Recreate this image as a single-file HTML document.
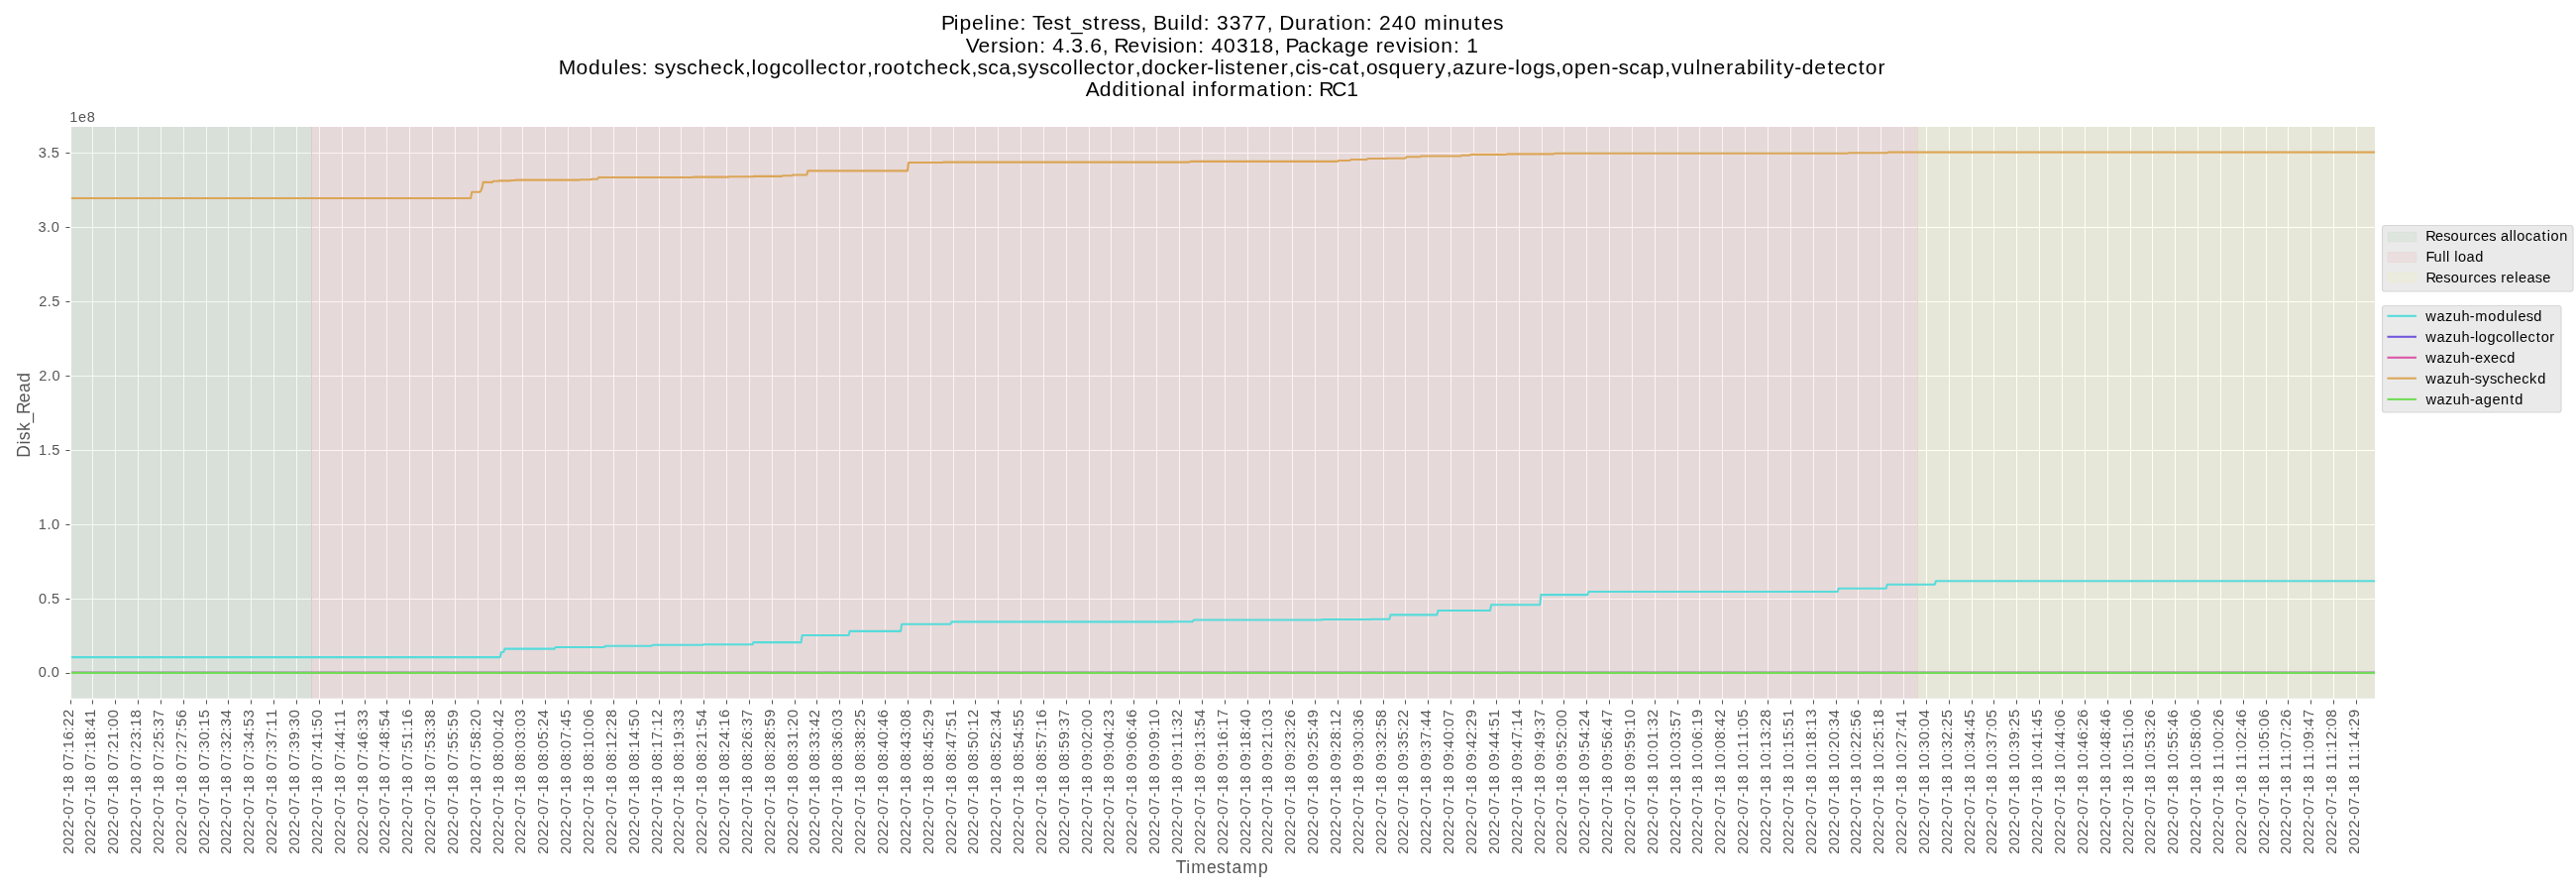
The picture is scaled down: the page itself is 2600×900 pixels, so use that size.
<!DOCTYPE html>
<html><head><meta charset="utf-8"><title>Disk_Read</title><style>html,body{margin:0;padding:0;background:#fff;width:2600px;height:900px;overflow:hidden}svg{display:block}.tx{will-change:transform}text{font-family:"Liberation Sans",sans-serif;font-variant-ligatures:none;font-kerning:none}</style></head><body>
<svg class="tx" width="2600" height="900" viewBox="0 0 2600 900">
<defs><clipPath id="ax"><rect x="72" y="128" width="2325" height="576.7"/></clipPath></defs>
<rect x="0" y="0" width="2600" height="900" fill="#fff"/>
<rect x="72" y="128" width="2325" height="576.7" fill="#e5e5e5"/>
<g fill="#fff"><rect x="93" y="128" width="1" height="576.7"/><rect x="116" y="128" width="1" height="576.7"/><rect x="139" y="128" width="1" height="576.7"/><rect x="162" y="128" width="1" height="576.7"/><rect x="185" y="128" width="1" height="576.7"/><rect x="208" y="128" width="1" height="576.7"/><rect x="230" y="128" width="1" height="576.7"/><rect x="253" y="128" width="1" height="576.7"/><rect x="276" y="128" width="1" height="576.7"/><rect x="299" y="128" width="1" height="576.7"/><rect x="322" y="128" width="1" height="576.7"/><rect x="345" y="128" width="1" height="576.7"/><rect x="368" y="128" width="1" height="576.7"/><rect x="390" y="128" width="1" height="576.7"/><rect x="413" y="128" width="1" height="576.7"/><rect x="436" y="128" width="1" height="576.7"/><rect x="459" y="128" width="1" height="576.7"/><rect x="482" y="128" width="1" height="576.7"/><rect x="505" y="128" width="1" height="576.7"/><rect x="527" y="128" width="1" height="576.7"/><rect x="550" y="128" width="1" height="576.7"/><rect x="573" y="128" width="1" height="576.7"/><rect x="596" y="128" width="1" height="576.7"/><rect x="619" y="128" width="1" height="576.7"/><rect x="642" y="128" width="1" height="576.7"/><rect x="665" y="128" width="1" height="576.7"/><rect x="687" y="128" width="1" height="576.7"/><rect x="710" y="128" width="1" height="576.7"/><rect x="733" y="128" width="1" height="576.7"/><rect x="756" y="128" width="1" height="576.7"/><rect x="779" y="128" width="1" height="576.7"/><rect x="802" y="128" width="1" height="576.7"/><rect x="824" y="128" width="1" height="576.7"/><rect x="847" y="128" width="1" height="576.7"/><rect x="870" y="128" width="1" height="576.7"/><rect x="893" y="128" width="1" height="576.7"/><rect x="916" y="128" width="1" height="576.7"/><rect x="939" y="128" width="1" height="576.7"/><rect x="962" y="128" width="1" height="576.7"/><rect x="984" y="128" width="1" height="576.7"/><rect x="1007" y="128" width="1" height="576.7"/><rect x="1030" y="128" width="1" height="576.7"/><rect x="1053" y="128" width="1" height="576.7"/><rect x="1076" y="128" width="1" height="576.7"/><rect x="1099" y="128" width="1" height="576.7"/><rect x="1121" y="128" width="1" height="576.7"/><rect x="1144" y="128" width="1" height="576.7"/><rect x="1167" y="128" width="1" height="576.7"/><rect x="1190" y="128" width="1" height="576.7"/><rect x="1213" y="128" width="1" height="576.7"/><rect x="1236" y="128" width="1" height="576.7"/><rect x="1259" y="128" width="1" height="576.7"/><rect x="1281" y="128" width="1" height="576.7"/><rect x="1304" y="128" width="1" height="576.7"/><rect x="1327" y="128" width="1" height="576.7"/><rect x="1350" y="128" width="1" height="576.7"/><rect x="1373" y="128" width="1" height="576.7"/><rect x="1396" y="128" width="1" height="576.7"/><rect x="1418" y="128" width="1" height="576.7"/><rect x="1441" y="128" width="1" height="576.7"/><rect x="1464" y="128" width="1" height="576.7"/><rect x="1487" y="128" width="1" height="576.7"/><rect x="1510" y="128" width="1" height="576.7"/><rect x="1533" y="128" width="1" height="576.7"/><rect x="1556" y="128" width="1" height="576.7"/><rect x="1578" y="128" width="1" height="576.7"/><rect x="1601" y="128" width="1" height="576.7"/><rect x="1624" y="128" width="1" height="576.7"/><rect x="1647" y="128" width="1" height="576.7"/><rect x="1670" y="128" width="1" height="576.7"/><rect x="1693" y="128" width="1" height="576.7"/><rect x="1715" y="128" width="1" height="576.7"/><rect x="1738" y="128" width="1" height="576.7"/><rect x="1761" y="128" width="1" height="576.7"/><rect x="1784" y="128" width="1" height="576.7"/><rect x="1807" y="128" width="1" height="576.7"/><rect x="1830" y="128" width="1" height="576.7"/><rect x="1853" y="128" width="1" height="576.7"/><rect x="1875" y="128" width="1" height="576.7"/><rect x="1898" y="128" width="1" height="576.7"/><rect x="1921" y="128" width="1" height="576.7"/><rect x="1944" y="128" width="1" height="576.7"/><rect x="1967" y="128" width="1" height="576.7"/><rect x="1990" y="128" width="1" height="576.7"/><rect x="2012" y="128" width="1" height="576.7"/><rect x="2035" y="128" width="1" height="576.7"/><rect x="2058" y="128" width="1" height="576.7"/><rect x="2081" y="128" width="1" height="576.7"/><rect x="2104" y="128" width="1" height="576.7"/><rect x="2127" y="128" width="1" height="576.7"/><rect x="2150" y="128" width="1" height="576.7"/><rect x="2172" y="128" width="1" height="576.7"/><rect x="2195" y="128" width="1" height="576.7"/><rect x="2218" y="128" width="1" height="576.7"/><rect x="2241" y="128" width="1" height="576.7"/><rect x="2264" y="128" width="1" height="576.7"/><rect x="2287" y="128" width="1" height="576.7"/><rect x="2309" y="128" width="1" height="576.7"/><rect x="2332" y="128" width="1" height="576.7"/><rect x="2355" y="128" width="1" height="576.7"/><rect x="2378" y="128" width="1" height="576.7"/><rect x="72" y="154" width="2325" height="1"/><rect x="72" y="229" width="2325" height="1"/><rect x="72" y="304" width="2325" height="1"/><rect x="72" y="379" width="2325" height="1"/><rect x="72" y="454" width="2325" height="1"/><rect x="72" y="529" width="2325" height="1"/><rect x="72" y="604" width="2325" height="1"/><rect x="72" y="679" width="2325" height="1"/></g>
<g clip-path="url(#ax)">
<rect x="72" y="128" width="242" height="576.7" fill="#008000" fill-opacity="0.05"/>
<rect x="315" y="128" width="1620" height="576.7" fill="#ff0000" fill-opacity="0.05"/>
<rect x="1936" y="128" width="461" height="576.7" fill="#ffff00" fill-opacity="0.05"/>
<rect x="314" y="128" width="1" height="576.7" fill="rgb(216,207,200)"/>
<rect x="1935" y="128" width="1" height="576.7" fill="rgb(229,216,200)"/>
</g>
<g clip-path="url(#ax)" fill="none" stroke-width="2.08" stroke-linejoin="round" stroke-linecap="square">
<polyline points="72.00,663.10 504.80,663.10 505.94,658.00 508.22,658.00 509.36,654.60 559.61,654.60 560.75,653.00 609.86,653.00 611.00,651.70 657.82,651.70 658.96,650.80 709.21,650.80 710.35,650.20 759.45,650.20 760.59,648.10 808.55,648.10 809.70,641.00 856.52,641.00 857.66,636.90 909.05,636.90 910.19,629.70 959.29,629.70 960.43,627.40 1184.25,627.40 1185.40,627.20 1203.67,627.20 1204.81,625.50 1333.85,625.50 1334.99,625.00 1382.95,625.00 1384.09,624.70 1402.37,624.70 1403.51,620.40 1450.33,620.40 1451.47,616.00 1504.00,616.00 1505.14,610.20 1554.24,610.20 1555.39,600.10 1602.21,600.10 1603.35,597.00 1854.58,597.00 1855.72,593.80 1903.68,593.80 1904.82,589.70 1952.78,589.70 1953.93,586.30 2397.00,586.30" stroke="#57dbdb"/>
<line x1="72" y1="679" x2="2397" y2="679" stroke="#7157db"/>
<line x1="72" y1="679" x2="2397" y2="679" stroke="#db57a6"/>
<rect x="72" y="677" width="2325" height="1" fill="#8a7090" fill-opacity="0.45" stroke="none"/>
<polyline points="72.00,200.00 475.11,200.00 476.25,193.70 484.24,193.70 485.38,192.60 486.53,189.70 487.67,183.90 496.80,183.90 497.95,182.80 502.51,182.80 503.66,182.40 515.07,182.40 516.22,182.00 519.64,182.00 520.78,181.60 584.73,181.60 585.88,181.20 596.15,181.20 597.29,180.80 603.00,180.80 604.15,179.00 698.93,179.00 700.07,178.60 735.47,178.60 736.61,178.30 759.45,178.30 760.59,177.90 789.14,177.90 790.28,177.20 799.42,177.20 800.56,176.50 814.26,176.50 815.41,172.40 915.90,172.40 917.04,164.00 951.30,164.00 952.44,163.60 1200.24,163.60 1201.38,162.90 1349.84,162.90 1350.98,162.00 1362.40,162.00 1363.54,161.00 1379.53,161.00 1380.67,160.00 1398.94,160.00 1400.08,159.70 1418.35,159.70 1419.50,158.30 1433.20,158.30 1434.34,157.50 1474.31,157.50 1475.45,156.70 1483.44,156.70 1484.59,155.90 1519.99,155.90 1521.13,155.40 1567.95,155.40 1569.09,154.80 1864.85,154.80 1866.00,154.20 1904.82,154.20 1905.96,153.60 2397.00,153.60" stroke="#dba657"/>
<line x1="72" y1="679" x2="2397" y2="679" stroke="#71db57"/>
</g>
<g fill="#555"><rect x="71" y="706.4" width="1" height="4.1"/><rect x="93" y="706.4" width="1" height="4.1"/><rect x="116" y="706.4" width="1" height="4.1"/><rect x="139" y="706.4" width="1" height="4.1"/><rect x="162" y="706.4" width="1" height="4.1"/><rect x="185" y="706.4" width="1" height="4.1"/><rect x="208" y="706.4" width="1" height="4.1"/><rect x="230" y="706.4" width="1" height="4.1"/><rect x="253" y="706.4" width="1" height="4.1"/><rect x="276" y="706.4" width="1" height="4.1"/><rect x="299" y="706.4" width="1" height="4.1"/><rect x="322" y="706.4" width="1" height="4.1"/><rect x="345" y="706.4" width="1" height="4.1"/><rect x="368" y="706.4" width="1" height="4.1"/><rect x="390" y="706.4" width="1" height="4.1"/><rect x="413" y="706.4" width="1" height="4.1"/><rect x="436" y="706.4" width="1" height="4.1"/><rect x="459" y="706.4" width="1" height="4.1"/><rect x="482" y="706.4" width="1" height="4.1"/><rect x="505" y="706.4" width="1" height="4.1"/><rect x="527" y="706.4" width="1" height="4.1"/><rect x="550" y="706.4" width="1" height="4.1"/><rect x="573" y="706.4" width="1" height="4.1"/><rect x="596" y="706.4" width="1" height="4.1"/><rect x="619" y="706.4" width="1" height="4.1"/><rect x="642" y="706.4" width="1" height="4.1"/><rect x="665" y="706.4" width="1" height="4.1"/><rect x="687" y="706.4" width="1" height="4.1"/><rect x="710" y="706.4" width="1" height="4.1"/><rect x="733" y="706.4" width="1" height="4.1"/><rect x="756" y="706.4" width="1" height="4.1"/><rect x="779" y="706.4" width="1" height="4.1"/><rect x="802" y="706.4" width="1" height="4.1"/><rect x="824" y="706.4" width="1" height="4.1"/><rect x="847" y="706.4" width="1" height="4.1"/><rect x="870" y="706.4" width="1" height="4.1"/><rect x="893" y="706.4" width="1" height="4.1"/><rect x="916" y="706.4" width="1" height="4.1"/><rect x="939" y="706.4" width="1" height="4.1"/><rect x="962" y="706.4" width="1" height="4.1"/><rect x="984" y="706.4" width="1" height="4.1"/><rect x="1007" y="706.4" width="1" height="4.1"/><rect x="1030" y="706.4" width="1" height="4.1"/><rect x="1053" y="706.4" width="1" height="4.1"/><rect x="1076" y="706.4" width="1" height="4.1"/><rect x="1099" y="706.4" width="1" height="4.1"/><rect x="1121" y="706.4" width="1" height="4.1"/><rect x="1144" y="706.4" width="1" height="4.1"/><rect x="1167" y="706.4" width="1" height="4.1"/><rect x="1190" y="706.4" width="1" height="4.1"/><rect x="1213" y="706.4" width="1" height="4.1"/><rect x="1236" y="706.4" width="1" height="4.1"/><rect x="1259" y="706.4" width="1" height="4.1"/><rect x="1281" y="706.4" width="1" height="4.1"/><rect x="1304" y="706.4" width="1" height="4.1"/><rect x="1327" y="706.4" width="1" height="4.1"/><rect x="1350" y="706.4" width="1" height="4.1"/><rect x="1373" y="706.4" width="1" height="4.1"/><rect x="1396" y="706.4" width="1" height="4.1"/><rect x="1418" y="706.4" width="1" height="4.1"/><rect x="1441" y="706.4" width="1" height="4.1"/><rect x="1464" y="706.4" width="1" height="4.1"/><rect x="1487" y="706.4" width="1" height="4.1"/><rect x="1510" y="706.4" width="1" height="4.1"/><rect x="1533" y="706.4" width="1" height="4.1"/><rect x="1556" y="706.4" width="1" height="4.1"/><rect x="1578" y="706.4" width="1" height="4.1"/><rect x="1601" y="706.4" width="1" height="4.1"/><rect x="1624" y="706.4" width="1" height="4.1"/><rect x="1647" y="706.4" width="1" height="4.1"/><rect x="1670" y="706.4" width="1" height="4.1"/><rect x="1693" y="706.4" width="1" height="4.1"/><rect x="1715" y="706.4" width="1" height="4.1"/><rect x="1738" y="706.4" width="1" height="4.1"/><rect x="1761" y="706.4" width="1" height="4.1"/><rect x="1784" y="706.4" width="1" height="4.1"/><rect x="1807" y="706.4" width="1" height="4.1"/><rect x="1830" y="706.4" width="1" height="4.1"/><rect x="1853" y="706.4" width="1" height="4.1"/><rect x="1875" y="706.4" width="1" height="4.1"/><rect x="1898" y="706.4" width="1" height="4.1"/><rect x="1921" y="706.4" width="1" height="4.1"/><rect x="1944" y="706.4" width="1" height="4.1"/><rect x="1967" y="706.4" width="1" height="4.1"/><rect x="1990" y="706.4" width="1" height="4.1"/><rect x="2012" y="706.4" width="1" height="4.1"/><rect x="2035" y="706.4" width="1" height="4.1"/><rect x="2058" y="706.4" width="1" height="4.1"/><rect x="2081" y="706.4" width="1" height="4.1"/><rect x="2104" y="706.4" width="1" height="4.1"/><rect x="2127" y="706.4" width="1" height="4.1"/><rect x="2150" y="706.4" width="1" height="4.1"/><rect x="2172" y="706.4" width="1" height="4.1"/><rect x="2195" y="706.4" width="1" height="4.1"/><rect x="2218" y="706.4" width="1" height="4.1"/><rect x="2241" y="706.4" width="1" height="4.1"/><rect x="2264" y="706.4" width="1" height="4.1"/><rect x="2287" y="706.4" width="1" height="4.1"/><rect x="2309" y="706.4" width="1" height="4.1"/><rect x="2332" y="706.4" width="1" height="4.1"/><rect x="2355" y="706.4" width="1" height="4.1"/><rect x="2378" y="706.4" width="1" height="4.1"/><rect x="66.4" y="154" width="4.1" height="1"/><rect x="66.4" y="229" width="4.1" height="1"/><rect x="66.4" y="304" width="4.1" height="1"/><rect x="66.4" y="379" width="4.1" height="1"/><rect x="66.4" y="454" width="4.1" height="1"/><rect x="66.4" y="529" width="4.1" height="1"/><rect x="66.4" y="604" width="4.1" height="1"/><rect x="66.4" y="679" width="4.1" height="1"/></g>
<g>
<text transform="translate(950.91 30.46) scale(1.000 1)" font-size="21.00" fill="#000" x="-0.97 11.95 17.51 30.06 42.57 48.07 53.62 66.19 78.70 85.26 91.07 100.69 112.71 124.13 130.16 141.08 152.50 159.99 167.56 179.58 189.96 200.64 207.01 212.98 227.37 240.07 245.57 251.13 263.83 270.39 277.02 289.77 302.52 315.27 327.76 334.14 340.37 356.12 368.99 377.04 390.13 397.45 402.78 415.25 427.95 434.51 441.15 453.90 466.52 479.14 486.24 505.32 510.87 523.62 536.88 544.06 556.08">Pipeline: Test_stress, Build: 3377, Duration: 240 minutes</text>
<text transform="translate(974.98 53.01) scale(1.000 1)" font-size="21.00" fill="#000" x="-0.16 12.44 25.11 32.83 43.70 49.03 61.50 74.20 80.76 87.40 99.76 106.27 118.76 125.27 137.76 144.14 149.62 163.56 176.29 187.95 192.96 203.82 209.15 221.62 234.33 240.89 247.52 260.15 273.02 285.77 298.52 311.01 317.39 322.53 334.91 347.25 358.54 369.54 382.13 394.69 407.01 413.74 421.31 434.04 445.70 450.71 461.57 466.90 479.37 492.08 498.64 505.27">Version: 4.3.6, Revision: 40318, Package revision: 1</text>
<text transform="translate(563.90 75.11) scale(1.000 1)" font-size="21.00" fill="#000" x="-0.12 17.65 30.13 42.87 55.57 60.94 72.96 83.83 90.39 96.46 107.54 118.71 129.37 140.62 153.19 165.50 176.79 188.14 194.70 200.03 212.51 225.00 236.03 248.45 253.95 259.31 271.62 283.38 290.53 303.11 311.14 317.86 325.40 337.65 350.63 357.75 369.00 381.56 393.87 405.17 416.51 422.58 433.25 444.29 456.64 462.71 473.79 484.96 495.62 506.65 519.07 524.57 529.94 542.25 554.00 561.15 573.74 581.76 588.38 600.90 613.12 624.42 635.06 647.74 654.36 661.95 667.45 672.46 683.88 691.06 703.62 716.19 728.86 736.89 743.25 754.45 759.46 769.99 777.37 788.41 801.50 808.64 815.03 826.96 837.88 850.62 863.19 875.86 884.29 895.76 902.16 914.25 925.25 938.11 945.69 957.86 965.45 970.78 983.26 995.46 1006.14 1012.53 1025.01 1037.56 1050.12 1062.49 1069.58 1080.25 1091.29 1103.88 1116.39 1123.17 1134.87 1147.57 1153.12 1165.69 1178.36 1186.41 1199.01 1211.70 1217.20 1222.70 1228.75 1236.29 1247.24 1254.88 1267.44 1280.50 1287.69 1300.00 1311.75 1318.90 1331.49">Modules: syscheck,logcollector,rootcheck,sca,syscollector,docker-listener,cis-cat,osquery,azure-logs,open-scap,vulnerability-detector</text>
<text transform="translate(1095.91 97.25) scale(1.000 1)" font-size="21.00" fill="#000" x="-0.16 13.76 26.51 39.20 45.25 52.57 57.90 70.37 82.91 95.45 100.76 107.32 112.87 125.73 132.53 145.11 153.49 172.41 185.50 192.82 198.15 210.62 223.33 229.89 235.37 248.27 263.40">Additional information: RC1</text>
<text transform="translate(38.35 682.97) scale(1.000 1)" font-size="14.58" fill="#555" x="0.36 8.93 13.49">0.0</text>
<text transform="translate(38.54 609.11) scale(1.000 1)" font-size="14.58" fill="#555" x="0.36 8.93 13.49">0.5</text>
<text transform="translate(38.35 533.78) scale(1.000 1)" font-size="14.58" fill="#555" x="0.36 9.06 13.61">1.0</text>
<text transform="translate(38.61 458.97) scale(1.000 1)" font-size="14.58" fill="#555" x="0.36 9.06 13.61">1.5</text>
<text transform="translate(38.91 383.84) scale(1.000 1)" font-size="14.58" fill="#555" x="0.36 8.93 13.49">2.0</text>
<text transform="translate(38.79 309.00) scale(1.000 1)" font-size="14.58" fill="#555" x="0.36 8.93 13.49">2.5</text>
<text transform="translate(38.19 234.01) scale(1.000 1)" font-size="14.58" fill="#555" x="0.36 8.93 13.49">3.0</text>
<text transform="translate(38.34 159.17) scale(1.000 1)" font-size="14.58" fill="#555" x="0.36 8.93 13.49">3.5</text>
<text transform="translate(69.90 122.94) scale(1.000 1)" font-size="14.58" fill="#555" x="0.36 9.09 17.74">1e8</text>
<text transform="translate(1187.12 880.94) scale(1.000 1)" font-size="17.50" fill="#555" x="-0.25 10.12 15.20 30.89 40.84 50.46 56.37 67.08 82.92">Timestamp</text>
<text transform="translate(29.85 461.76) rotate(-90) scale(1.000 1)" font-size="17.50" fill="#555" x="0.10 13.25 17.47 26.70 35.30 43.85 55.51 65.74 76.05">Disk_Read</text>
<text transform="translate(74.19 862.03) rotate(-90) scale(1.000 1)" font-size="14.58" fill="#555" x="0.36 9.11 17.86 26.61 35.08 40.24 48.99 57.45 62.61 71.49 80.18 84.74 93.49 102.19 106.86 115.74 124.56 129.24 137.99">2022-07-18 07:16:22</text>
<text transform="translate(96.20 862.06) rotate(-90) scale(1.000 1)" font-size="14.58" fill="#555" x="0.36 9.11 17.86 26.61 35.08 40.24 48.99 57.45 62.61 71.49 80.18 84.74 93.49 102.19 106.86 115.74 124.56 129.24 137.99">2022-07-18 07:18:41</text>
<text transform="translate(119.20 862.03) rotate(-90) scale(1.000 1)" font-size="14.58" fill="#555" x="0.36 9.11 17.86 26.61 35.08 40.24 48.99 57.45 62.61 71.49 80.18 84.74 93.49 102.19 106.86 115.61 124.44 129.11 137.86">2022-07-18 07:21:00</text>
<text transform="translate(142.20 862.01) rotate(-90) scale(1.000 1)" font-size="14.58" fill="#555" x="0.36 9.11 17.86 26.61 35.08 40.24 48.99 57.45 62.61 71.49 80.18 84.74 93.49 102.19 106.86 115.61 124.31 128.99 137.86">2022-07-18 07:23:18</text>
<text transform="translate(165.27 861.98) rotate(-90) scale(1.000 1)" font-size="14.58" fill="#555" x="0.36 9.11 17.86 26.61 35.08 40.24 48.99 57.45 62.61 71.49 80.18 84.74 93.49 102.19 106.86 115.61 124.31 128.99 137.74">2022-07-18 07:25:37</text>
<text transform="translate(188.27 862.01) rotate(-90) scale(1.000 1)" font-size="14.58" fill="#555" x="0.36 9.11 17.86 26.61 35.08 40.24 48.99 57.45 62.61 71.49 80.18 84.74 93.49 102.19 106.86 115.61 124.31 128.99 137.74">2022-07-18 07:27:56</text>
<text transform="translate(211.26 861.99) rotate(-90) scale(1.000 1)" font-size="14.58" fill="#555" x="0.36 9.11 17.86 26.61 35.08 40.24 48.99 57.45 62.61 71.49 80.18 84.74 93.49 102.19 106.86 115.61 124.31 128.99 137.86">2022-07-18 07:30:15</text>
<text transform="translate(233.25 861.99) rotate(-90) scale(1.000 1)" font-size="14.58" fill="#555" x="0.36 9.11 17.86 26.61 35.08 40.24 48.99 57.45 62.61 71.49 80.18 84.74 93.49 102.19 106.86 115.61 124.31 128.99 137.74">2022-07-18 07:32:34</text>
<text transform="translate(256.31 862.03) rotate(-90) scale(1.000 1)" font-size="14.58" fill="#555" x="0.36 9.11 17.86 26.61 35.08 40.24 48.99 57.45 62.61 71.49 80.18 84.74 93.49 102.19 106.86 115.61 124.31 128.99 137.74">2022-07-18 07:34:53</text>
<text transform="translate(279.19 861.98) rotate(-90) scale(1.000 1)" font-size="14.58" fill="#555" x="0.36 9.11 17.86 26.61 35.08 40.24 48.99 57.45 62.61 71.49 80.18 84.74 93.49 102.19 106.86 115.61 124.31 128.99 137.86">2022-07-18 07:37:11</text>
<text transform="translate(302.26 862.02) rotate(-90) scale(1.000 1)" font-size="14.58" fill="#555" x="0.36 9.11 17.86 26.61 35.08 40.24 48.99 57.45 62.61 71.49 80.18 84.74 93.49 102.19 106.86 115.61 124.44 129.11 137.86">2022-07-18 07:39:30</text>
<text transform="translate(325.28 862.03) rotate(-90) scale(1.000 1)" font-size="14.58" fill="#555" x="0.36 9.11 17.86 26.61 35.08 40.24 48.99 57.45 62.61 71.49 80.18 84.74 93.49 102.19 106.86 115.61 124.44 129.11 137.86">2022-07-18 07:41:50</text>
<text transform="translate(348.21 862.02) rotate(-90) scale(1.000 1)" font-size="14.58" fill="#555" x="0.36 9.11 17.86 26.61 35.08 40.24 48.99 57.45 62.61 71.49 80.18 84.74 93.49 102.19 106.86 115.61 124.31 128.99 137.86">2022-07-18 07:44:11</text>
<text transform="translate(371.27 862.04) rotate(-90) scale(1.000 1)" font-size="14.58" fill="#555" x="0.36 9.11 17.86 26.61 35.08 40.24 48.99 57.45 62.61 71.49 80.18 84.74 93.49 102.19 106.86 115.61 124.44 129.11 137.86">2022-07-18 07:46:33</text>
<text transform="translate(393.31 861.98) rotate(-90) scale(1.000 1)" font-size="14.58" fill="#555" x="0.36 9.11 17.86 26.61 35.08 40.24 48.99 57.45 62.61 71.49 80.18 84.74 93.49 102.19 106.86 115.61 124.44 129.11 137.86">2022-07-18 07:48:54</text>
<text transform="translate(416.22 862.02) rotate(-90) scale(1.000 1)" font-size="14.58" fill="#555" x="0.36 9.11 17.86 26.61 35.08 40.24 48.99 57.45 62.61 71.49 80.18 84.74 93.49 102.19 106.86 115.61 124.44 129.11 137.99">2022-07-18 07:51:16</text>
<text transform="translate(439.28 861.98) rotate(-90) scale(1.000 1)" font-size="14.58" fill="#555" x="0.36 9.11 17.86 26.61 35.08 40.24 48.99 57.45 62.61 71.49 80.18 84.74 93.49 102.19 106.86 115.61 124.31 128.99 137.74">2022-07-18 07:53:38</text>
<text transform="translate(462.36 862.03) rotate(-90) scale(1.000 1)" font-size="14.58" fill="#555" x="0.36 9.11 17.86 26.61 35.08 40.24 48.99 57.45 62.61 71.49 80.18 84.74 93.49 102.19 106.86 115.61 124.31 128.99 137.74">2022-07-18 07:55:59</text>
<text transform="translate(485.26 861.98) rotate(-90) scale(1.000 1)" font-size="14.58" fill="#555" x="0.36 9.11 17.86 26.61 35.08 40.24 48.99 57.45 62.61 71.49 80.18 84.74 93.49 102.19 106.86 115.61 124.44 129.11 137.86">2022-07-18 07:58:20</text>
<text transform="translate(508.25 861.99) rotate(-90) scale(1.000 1)" font-size="14.58" fill="#555" x="0.36 9.11 17.86 26.61 35.08 40.24 48.99 57.45 62.61 71.49 80.18 84.74 93.49 102.31 106.99 115.74 124.44 129.11 137.86">2022-07-18 08:00:42</text>
<text transform="translate(530.24 861.98) rotate(-90) scale(1.000 1)" font-size="14.58" fill="#555" x="0.36 9.11 17.86 26.61 35.08 40.24 48.99 57.45 62.61 71.49 80.18 84.74 93.49 102.31 106.99 115.74 124.44 129.11 137.86">2022-07-18 08:03:03</text>
<text transform="translate(553.29 862.04) rotate(-90) scale(1.000 1)" font-size="14.58" fill="#555" x="0.36 9.11 17.86 26.61 35.08 40.24 48.99 57.45 62.61 71.49 80.18 84.74 93.49 102.31 106.99 115.74 124.44 129.11 137.86">2022-07-18 08:05:24</text>
<text transform="translate(576.30 861.99) rotate(-90) scale(1.000 1)" font-size="14.58" fill="#555" x="0.36 9.11 17.86 26.61 35.08 40.24 48.99 57.45 62.61 71.49 80.18 84.74 93.49 102.31 106.99 115.74 124.44 129.11 137.86">2022-07-18 08:07:45</text>
<text transform="translate(599.21 862.00) rotate(-90) scale(1.000 1)" font-size="14.58" fill="#555" x="0.36 9.11 17.86 26.61 35.08 40.24 48.99 57.45 62.61 71.49 80.18 84.74 93.49 102.31 106.99 115.86 124.56 129.24 137.99">2022-07-18 08:10:06</text>
<text transform="translate(622.18 861.99) rotate(-90) scale(1.000 1)" font-size="14.58" fill="#555" x="0.36 9.11 17.86 26.61 35.08 40.24 48.99 57.45 62.61 71.49 80.18 84.74 93.49 102.31 106.99 115.86 124.56 129.24 137.99">2022-07-18 08:12:28</text>
<text transform="translate(645.27 861.98) rotate(-90) scale(1.000 1)" font-size="14.58" fill="#555" x="0.36 9.11 17.86 26.61 35.08 40.24 48.99 57.45 62.61 71.49 80.18 84.74 93.49 102.31 106.99 115.86 124.56 129.24 137.99">2022-07-18 08:14:50</text>
<text transform="translate(668.17 862.01) rotate(-90) scale(1.000 1)" font-size="14.58" fill="#555" x="0.36 9.11 17.86 26.61 35.08 40.24 48.99 57.45 62.61 71.49 80.18 84.74 93.49 102.31 106.99 115.86 124.56 129.24 138.11">2022-07-18 08:17:12</text>
<text transform="translate(690.23 862.03) rotate(-90) scale(1.000 1)" font-size="14.58" fill="#555" x="0.36 9.11 17.86 26.61 35.08 40.24 48.99 57.45 62.61 71.49 80.18 84.74 93.49 102.31 106.99 115.86 124.69 129.36 138.11">2022-07-18 08:19:33</text>
<text transform="translate(713.26 862.06) rotate(-90) scale(1.000 1)" font-size="14.58" fill="#555" x="0.36 9.11 17.86 26.61 35.08 40.24 48.99 57.45 62.61 71.49 80.18 84.74 93.49 102.31 106.99 115.74 124.56 129.24 137.99">2022-07-18 08:21:54</text>
<text transform="translate(736.22 862.04) rotate(-90) scale(1.000 1)" font-size="14.58" fill="#555" x="0.36 9.11 17.86 26.61 35.08 40.24 48.99 57.45 62.61 71.49 80.18 84.74 93.49 102.31 106.99 115.74 124.44 129.11 137.99">2022-07-18 08:24:16</text>
<text transform="translate(759.23 862.03) rotate(-90) scale(1.000 1)" font-size="14.58" fill="#555" x="0.36 9.11 17.86 26.61 35.08 40.24 48.99 57.45 62.61 71.49 80.18 84.74 93.49 102.31 106.99 115.74 124.56 129.24 137.99">2022-07-18 08:26:37</text>
<text transform="translate(782.27 861.99) rotate(-90) scale(1.000 1)" font-size="14.58" fill="#555" x="0.36 9.11 17.86 26.61 35.08 40.24 48.99 57.45 62.61 71.49 80.18 84.74 93.49 102.31 106.99 115.74 124.56 129.24 137.99">2022-07-18 08:28:59</text>
<text transform="translate(805.20 862.02) rotate(-90) scale(1.000 1)" font-size="14.58" fill="#555" x="0.36 9.11 17.86 26.61 35.08 40.24 48.99 57.45 62.61 71.49 80.18 84.74 93.49 102.31 106.99 115.74 124.56 129.24 137.99">2022-07-18 08:31:20</text>
<text transform="translate(827.25 862.05) rotate(-90) scale(1.000 1)" font-size="14.58" fill="#555" x="0.36 9.11 17.86 26.61 35.08 40.24 48.99 57.45 62.61 71.49 80.18 84.74 93.49 102.31 106.99 115.74 124.44 129.11 137.86">2022-07-18 08:33:42</text>
<text transform="translate(850.24 861.98) rotate(-90) scale(1.000 1)" font-size="14.58" fill="#555" x="0.36 9.11 17.86 26.61 35.08 40.24 48.99 57.45 62.61 71.49 80.18 84.74 93.49 102.31 106.99 115.74 124.56 129.24 137.99">2022-07-18 08:36:03</text>
<text transform="translate(873.26 862.01) rotate(-90) scale(1.000 1)" font-size="14.58" fill="#555" x="0.36 9.11 17.86 26.61 35.08 40.24 48.99 57.45 62.61 71.49 80.18 84.74 93.49 102.31 106.99 115.74 124.56 129.24 137.99">2022-07-18 08:38:25</text>
<text transform="translate(896.27 862.02) rotate(-90) scale(1.000 1)" font-size="14.58" fill="#555" x="0.36 9.11 17.86 26.61 35.08 40.24 48.99 57.45 62.61 71.49 80.18 84.74 93.49 102.31 106.99 115.74 124.44 129.11 137.86">2022-07-18 08:40:46</text>
<text transform="translate(919.26 862.00) rotate(-90) scale(1.000 1)" font-size="14.58" fill="#555" x="0.36 9.11 17.86 26.61 35.08 40.24 48.99 57.45 62.61 71.49 80.18 84.74 93.49 102.31 106.99 115.74 124.44 129.11 137.86">2022-07-18 08:43:08</text>
<text transform="translate(942.30 862.00) rotate(-90) scale(1.000 1)" font-size="14.58" fill="#555" x="0.36 9.11 17.86 26.61 35.08 40.24 48.99 57.45 62.61 71.49 80.18 84.74 93.49 102.31 106.99 115.74 124.44 129.11 137.86">2022-07-18 08:45:29</text>
<text transform="translate(965.27 862.01) rotate(-90) scale(1.000 1)" font-size="14.58" fill="#555" x="0.36 9.11 17.86 26.61 35.08 40.24 48.99 57.45 62.61 71.49 80.18 84.74 93.49 102.31 106.99 115.74 124.44 129.11 137.86">2022-07-18 08:47:51</text>
<text transform="translate(987.23 862.01) rotate(-90) scale(1.000 1)" font-size="14.58" fill="#555" x="0.36 9.11 17.86 26.61 35.08 40.24 48.99 57.45 62.61 71.49 80.18 84.74 93.49 102.31 106.99 115.74 124.44 129.11 137.99">2022-07-18 08:50:12</text>
<text transform="translate(1010.29 862.05) rotate(-90) scale(1.000 1)" font-size="14.58" fill="#555" x="0.36 9.11 17.86 26.61 35.08 40.24 48.99 57.45 62.61 71.49 80.18 84.74 93.49 102.31 106.99 115.74 124.44 129.11 137.86">2022-07-18 08:52:34</text>
<text transform="translate(1033.37 861.99) rotate(-90) scale(1.000 1)" font-size="14.58" fill="#555" x="0.36 9.11 17.86 26.61 35.08 40.24 48.99 57.45 62.61 71.49 80.18 84.74 93.49 102.31 106.99 115.74 124.44 129.11 137.86">2022-07-18 08:54:55</text>
<text transform="translate(1056.25 862.01) rotate(-90) scale(1.000 1)" font-size="14.58" fill="#555" x="0.36 9.11 17.86 26.61 35.08 40.24 48.99 57.45 62.61 71.49 80.18 84.74 93.49 102.31 106.99 115.74 124.44 129.11 137.99">2022-07-18 08:57:16</text>
<text transform="translate(1079.29 861.99) rotate(-90) scale(1.000 1)" font-size="14.58" fill="#555" x="0.36 9.11 17.86 26.61 35.08 40.24 48.99 57.45 62.61 71.49 80.18 84.74 93.49 102.31 106.99 115.74 124.56 129.24 137.99">2022-07-18 08:59:37</text>
<text transform="translate(1102.24 862.01) rotate(-90) scale(1.000 1)" font-size="14.58" fill="#555" x="0.36 9.11 17.86 26.61 35.08 40.24 48.99 57.45 62.61 71.49 80.18 84.74 93.49 102.31 106.99 115.74 124.44 129.11 137.86">2022-07-18 09:02:00</text>
<text transform="translate(1124.27 862.03) rotate(-90) scale(1.000 1)" font-size="14.58" fill="#555" x="0.36 9.11 17.86 26.61 35.08 40.24 48.99 57.45 62.61 71.49 80.18 84.74 93.49 102.31 106.99 115.74 124.44 129.11 137.86">2022-07-18 09:04:23</text>
<text transform="translate(1147.28 862.01) rotate(-90) scale(1.000 1)" font-size="14.58" fill="#555" x="0.36 9.11 17.86 26.61 35.08 40.24 48.99 57.45 62.61 71.49 80.18 84.74 93.49 102.31 106.99 115.74 124.56 129.24 137.99">2022-07-18 09:06:46</text>
<text transform="translate(1170.24 862.02) rotate(-90) scale(1.000 1)" font-size="14.58" fill="#555" x="0.36 9.11 17.86 26.61 35.08 40.24 48.99 57.45 62.61 71.49 80.18 84.74 93.49 102.31 106.99 115.74 124.56 129.24 138.11">2022-07-18 09:09:10</text>
<text transform="translate(1193.19 862.01) rotate(-90) scale(1.000 1)" font-size="14.58" fill="#555" x="0.36 9.11 17.86 26.61 35.08 40.24 48.99 57.45 62.61 71.49 80.18 84.74 93.49 102.31 106.99 115.86 124.69 129.36 138.11">2022-07-18 09:11:32</text>
<text transform="translate(1216.29 862.06) rotate(-90) scale(1.000 1)" font-size="14.58" fill="#555" x="0.36 9.11 17.86 26.61 35.08 40.24 48.99 57.45 62.61 71.49 80.18 84.74 93.49 102.31 106.99 115.86 124.56 129.24 137.99">2022-07-18 09:13:54</text>
<text transform="translate(1239.20 862.04) rotate(-90) scale(1.000 1)" font-size="14.58" fill="#555" x="0.36 9.11 17.86 26.61 35.08 40.24 48.99 57.45 62.61 71.49 80.18 84.74 93.49 102.31 106.99 115.86 124.69 129.36 138.24">2022-07-18 09:16:17</text>
<text transform="translate(1262.24 862.01) rotate(-90) scale(1.000 1)" font-size="14.58" fill="#555" x="0.36 9.11 17.86 26.61 35.08 40.24 48.99 57.45 62.61 71.49 80.18 84.74 93.49 102.31 106.99 115.86 124.69 129.36 138.11">2022-07-18 09:18:40</text>
<text transform="translate(1284.21 862.01) rotate(-90) scale(1.000 1)" font-size="14.58" fill="#555" x="0.36 9.11 17.86 26.61 35.08 40.24 48.99 57.45 62.61 71.49 80.18 84.74 93.49 102.31 106.99 115.74 124.56 129.24 137.99">2022-07-18 09:21:03</text>
<text transform="translate(1307.23 861.99) rotate(-90) scale(1.000 1)" font-size="14.58" fill="#555" x="0.36 9.11 17.86 26.61 35.08 40.24 48.99 57.45 62.61 71.49 80.18 84.74 93.49 102.31 106.99 115.74 124.44 129.11 137.86">2022-07-18 09:23:26</text>
<text transform="translate(1330.32 862.00) rotate(-90) scale(1.000 1)" font-size="14.58" fill="#555" x="0.36 9.11 17.86 26.61 35.08 40.24 48.99 57.45 62.61 71.49 80.18 84.74 93.49 102.31 106.99 115.74 124.44 129.11 137.86">2022-07-18 09:25:49</text>
<text transform="translate(1353.19 862.01) rotate(-90) scale(1.000 1)" font-size="14.58" fill="#555" x="0.36 9.11 17.86 26.61 35.08 40.24 48.99 57.45 62.61 71.49 80.18 84.74 93.49 102.31 106.99 115.74 124.56 129.24 138.11">2022-07-18 09:28:12</text>
<text transform="translate(1376.26 862.03) rotate(-90) scale(1.000 1)" font-size="14.58" fill="#555" x="0.36 9.11 17.86 26.61 35.08 40.24 48.99 57.45 62.61 71.49 80.18 84.74 93.49 102.31 106.99 115.74 124.44 129.11 137.86">2022-07-18 09:30:36</text>
<text transform="translate(1399.27 862.04) rotate(-90) scale(1.000 1)" font-size="14.58" fill="#555" x="0.36 9.11 17.86 26.61 35.08 40.24 48.99 57.45 62.61 71.49 80.18 84.74 93.49 102.31 106.99 115.74 124.44 129.11 137.86">2022-07-18 09:32:58</text>
<text transform="translate(1421.26 862.03) rotate(-90) scale(1.000 1)" font-size="14.58" fill="#555" x="0.36 9.11 17.86 26.61 35.08 40.24 48.99 57.45 62.61 71.49 80.18 84.74 93.49 102.31 106.99 115.74 124.44 129.11 137.86">2022-07-18 09:35:22</text>
<text transform="translate(1444.29 862.05) rotate(-90) scale(1.000 1)" font-size="14.58" fill="#555" x="0.36 9.11 17.86 26.61 35.08 40.24 48.99 57.45 62.61 71.49 80.18 84.74 93.49 102.31 106.99 115.74 124.44 129.11 137.86">2022-07-18 09:37:44</text>
<text transform="translate(1467.29 862.02) rotate(-90) scale(1.000 1)" font-size="14.58" fill="#555" x="0.36 9.11 17.86 26.61 35.08 40.24 48.99 57.45 62.61 71.49 80.18 84.74 93.49 102.31 106.99 115.74 124.44 129.11 137.86">2022-07-18 09:40:07</text>
<text transform="translate(1490.26 862.06) rotate(-90) scale(1.000 1)" font-size="14.58" fill="#555" x="0.36 9.11 17.86 26.61 35.08 40.24 48.99 57.45 62.61 71.49 80.18 84.74 93.49 102.31 106.99 115.74 124.44 129.11 137.86">2022-07-18 09:42:29</text>
<text transform="translate(1513.30 862.03) rotate(-90) scale(1.000 1)" font-size="14.58" fill="#555" x="0.36 9.11 17.86 26.61 35.08 40.24 48.99 57.45 62.61 71.49 80.18 84.74 93.49 102.31 106.99 115.74 124.44 129.11 137.86">2022-07-18 09:44:51</text>
<text transform="translate(1536.26 862.05) rotate(-90) scale(1.000 1)" font-size="14.58" fill="#555" x="0.36 9.11 17.86 26.61 35.08 40.24 48.99 57.45 62.61 71.49 80.18 84.74 93.49 102.31 106.99 115.74 124.44 129.11 137.99">2022-07-18 09:47:14</text>
<text transform="translate(1559.30 862.04) rotate(-90) scale(1.000 1)" font-size="14.58" fill="#555" x="0.36 9.11 17.86 26.61 35.08 40.24 48.99 57.45 62.61 71.49 80.18 84.74 93.49 102.31 106.99 115.74 124.56 129.24 137.99">2022-07-18 09:49:37</text>
<text transform="translate(1581.28 862.04) rotate(-90) scale(1.000 1)" font-size="14.58" fill="#555" x="0.36 9.11 17.86 26.61 35.08 40.24 48.99 57.45 62.61 71.49 80.18 84.74 93.49 102.31 106.99 115.74 124.44 129.11 137.86">2022-07-18 09:52:00</text>
<text transform="translate(1604.32 862.02) rotate(-90) scale(1.000 1)" font-size="14.58" fill="#555" x="0.36 9.11 17.86 26.61 35.08 40.24 48.99 57.45 62.61 71.49 80.18 84.74 93.49 102.31 106.99 115.74 124.44 129.11 137.86">2022-07-18 09:54:24</text>
<text transform="translate(1627.32 862.01) rotate(-90) scale(1.000 1)" font-size="14.58" fill="#555" x="0.36 9.11 17.86 26.61 35.08 40.24 48.99 57.45 62.61 71.49 80.18 84.74 93.49 102.31 106.99 115.74 124.56 129.24 137.99">2022-07-18 09:56:47</text>
<text transform="translate(1650.27 862.03) rotate(-90) scale(1.000 1)" font-size="14.58" fill="#555" x="0.36 9.11 17.86 26.61 35.08 40.24 48.99 57.45 62.61 71.49 80.18 84.74 93.49 102.31 106.99 115.74 124.56 129.24 138.11">2022-07-18 09:59:10</text>
<text transform="translate(1673.18 862.03) rotate(-90) scale(1.000 1)" font-size="14.58" fill="#555" x="0.36 9.11 17.86 26.61 35.08 40.24 48.99 57.45 62.61 71.49 80.18 84.74 93.61 102.31 106.99 115.74 124.56 129.24 137.99">2022-07-18 10:01:32</text>
<text transform="translate(1696.25 862.05) rotate(-90) scale(1.000 1)" font-size="14.58" fill="#555" x="0.36 9.11 17.86 26.61 35.08 40.24 48.99 57.45 62.61 71.49 80.18 84.74 93.61 102.31 106.99 115.74 124.44 129.11 137.86">2022-07-18 10:03:57</text>
<text transform="translate(1718.20 861.99) rotate(-90) scale(1.000 1)" font-size="14.58" fill="#555" x="0.36 9.11 17.86 26.61 35.08 40.24 48.99 57.45 62.61 71.49 80.18 84.74 93.61 102.31 106.99 115.74 124.56 129.24 138.11">2022-07-18 10:06:19</text>
<text transform="translate(1741.22 861.99) rotate(-90) scale(1.000 1)" font-size="14.58" fill="#555" x="0.36 9.11 17.86 26.61 35.08 40.24 48.99 57.45 62.61 71.49 80.18 84.74 93.61 102.31 106.99 115.74 124.56 129.24 137.99">2022-07-18 10:08:42</text>
<text transform="translate(1764.19 862.06) rotate(-90) scale(1.000 1)" font-size="14.58" fill="#555" x="0.36 9.11 17.86 26.61 35.08 40.24 48.99 57.45 62.61 71.49 80.18 84.74 93.61 102.31 106.99 115.86 124.69 129.36 138.11">2022-07-18 10:11:05</text>
<text transform="translate(1787.17 861.98) rotate(-90) scale(1.000 1)" font-size="14.58" fill="#555" x="0.36 9.11 17.86 26.61 35.08 40.24 48.99 57.45 62.61 71.49 80.18 84.74 93.61 102.31 106.99 115.86 124.56 129.24 137.99">2022-07-18 10:13:28</text>
<text transform="translate(1810.23 862.03) rotate(-90) scale(1.000 1)" font-size="14.58" fill="#555" x="0.36 9.11 17.86 26.61 35.08 40.24 48.99 57.45 62.61 71.49 80.18 84.74 93.61 102.31 106.99 115.86 124.56 129.24 137.99">2022-07-18 10:15:51</text>
<text transform="translate(1833.16 862.03) rotate(-90) scale(1.000 1)" font-size="14.58" fill="#555" x="0.36 9.11 17.86 26.61 35.08 40.24 48.99 57.45 62.61 71.49 80.18 84.74 93.61 102.31 106.99 115.86 124.69 129.36 138.24">2022-07-18 10:18:13</text>
<text transform="translate(1856.22 862.05) rotate(-90) scale(1.000 1)" font-size="14.58" fill="#555" x="0.36 9.11 17.86 26.61 35.08 40.24 48.99 57.45 62.61 71.49 80.18 84.74 93.61 102.31 106.99 115.74 124.44 129.11 137.86">2022-07-18 10:20:34</text>
<text transform="translate(1878.22 862.05) rotate(-90) scale(1.000 1)" font-size="14.58" fill="#555" x="0.36 9.11 17.86 26.61 35.08 40.24 48.99 57.45 62.61 71.49 80.18 84.74 93.61 102.31 106.99 115.74 124.44 129.11 137.86">2022-07-18 10:22:56</text>
<text transform="translate(1901.21 862.05) rotate(-90) scale(1.000 1)" font-size="14.58" fill="#555" x="0.36 9.11 17.86 26.61 35.08 40.24 48.99 57.45 62.61 71.49 80.18 84.74 93.61 102.31 106.99 115.74 124.44 129.11 137.99">2022-07-18 10:25:18</text>
<text transform="translate(1924.19 862.07) rotate(-90) scale(1.000 1)" font-size="14.58" fill="#555" x="0.36 9.11 17.86 26.61 35.08 40.24 48.99 57.45 62.61 71.49 80.18 84.74 93.61 102.31 106.99 115.74 124.44 129.11 137.86">2022-07-18 10:27:41</text>
<text transform="translate(1947.24 862.03) rotate(-90) scale(1.000 1)" font-size="14.58" fill="#555" x="0.36 9.11 17.86 26.61 35.08 40.24 48.99 57.45 62.61 71.49 80.18 84.74 93.61 102.31 106.99 115.74 124.44 129.11 137.86">2022-07-18 10:30:04</text>
<text transform="translate(1970.23 862.01) rotate(-90) scale(1.000 1)" font-size="14.58" fill="#555" x="0.36 9.11 17.86 26.61 35.08 40.24 48.99 57.45 62.61 71.49 80.18 84.74 93.61 102.31 106.99 115.74 124.44 129.11 137.86">2022-07-18 10:32:25</text>
<text transform="translate(1993.28 862.04) rotate(-90) scale(1.000 1)" font-size="14.58" fill="#555" x="0.36 9.11 17.86 26.61 35.08 40.24 48.99 57.45 62.61 71.49 80.18 84.74 93.61 102.31 106.99 115.74 124.44 129.11 137.86">2022-07-18 10:34:45</text>
<text transform="translate(2015.25 862.04) rotate(-90) scale(1.000 1)" font-size="14.58" fill="#555" x="0.36 9.11 17.86 26.61 35.08 40.24 48.99 57.45 62.61 71.49 80.18 84.74 93.61 102.31 106.99 115.74 124.44 129.11 137.86">2022-07-18 10:37:05</text>
<text transform="translate(2038.25 862.05) rotate(-90) scale(1.000 1)" font-size="14.58" fill="#555" x="0.36 9.11 17.86 26.61 35.08 40.24 48.99 57.45 62.61 71.49 80.18 84.74 93.61 102.31 106.99 115.74 124.56 129.24 137.99">2022-07-18 10:39:25</text>
<text transform="translate(2061.25 862.04) rotate(-90) scale(1.000 1)" font-size="14.58" fill="#555" x="0.36 9.11 17.86 26.61 35.08 40.24 48.99 57.45 62.61 71.49 80.18 84.74 93.61 102.31 106.99 115.74 124.56 129.24 137.99">2022-07-18 10:41:45</text>
<text transform="translate(2084.24 862.04) rotate(-90) scale(1.000 1)" font-size="14.58" fill="#555" x="0.36 9.11 17.86 26.61 35.08 40.24 48.99 57.45 62.61 71.49 80.18 84.74 93.61 102.31 106.99 115.74 124.44 129.11 137.86">2022-07-18 10:44:06</text>
<text transform="translate(2107.22 862.01) rotate(-90) scale(1.000 1)" font-size="14.58" fill="#555" x="0.36 9.11 17.86 26.61 35.08 40.24 48.99 57.45 62.61 71.49 80.18 84.74 93.61 102.31 106.99 115.74 124.56 129.24 137.99">2022-07-18 10:46:26</text>
<text transform="translate(2130.23 862.01) rotate(-90) scale(1.000 1)" font-size="14.58" fill="#555" x="0.36 9.11 17.86 26.61 35.08 40.24 48.99 57.45 62.61 71.49 80.18 84.74 93.61 102.31 106.99 115.74 124.56 129.24 137.99">2022-07-18 10:48:46</text>
<text transform="translate(2153.22 862.01) rotate(-90) scale(1.000 1)" font-size="14.58" fill="#555" x="0.36 9.11 17.86 26.61 35.08 40.24 48.99 57.45 62.61 71.49 80.18 84.74 93.61 102.31 106.99 115.74 124.56 129.24 137.99">2022-07-18 10:51:06</text>
<text transform="translate(2175.24 862.05) rotate(-90) scale(1.000 1)" font-size="14.58" fill="#555" x="0.36 9.11 17.86 26.61 35.08 40.24 48.99 57.45 62.61 71.49 80.18 84.74 93.61 102.31 106.99 115.74 124.44 129.11 137.86">2022-07-18 10:53:26</text>
<text transform="translate(2198.31 862.03) rotate(-90) scale(1.000 1)" font-size="14.58" fill="#555" x="0.36 9.11 17.86 26.61 35.08 40.24 48.99 57.45 62.61 71.49 80.18 84.74 93.61 102.31 106.99 115.74 124.44 129.11 137.86">2022-07-18 10:55:46</text>
<text transform="translate(2221.24 862.03) rotate(-90) scale(1.000 1)" font-size="14.58" fill="#555" x="0.36 9.11 17.86 26.61 35.08 40.24 48.99 57.45 62.61 71.49 80.18 84.74 93.61 102.31 106.99 115.74 124.56 129.24 137.99">2022-07-18 10:58:06</text>
<text transform="translate(2244.17 862.03) rotate(-90) scale(1.000 1)" font-size="14.58" fill="#555" x="0.36 9.11 17.86 26.61 35.08 40.24 48.99 57.45 62.61 71.49 80.18 84.74 93.61 102.44 107.11 115.86 124.56 129.24 137.99">2022-07-18 11:00:26</text>
<text transform="translate(2267.19 862.00) rotate(-90) scale(1.000 1)" font-size="14.58" fill="#555" x="0.36 9.11 17.86 26.61 35.08 40.24 48.99 57.45 62.61 71.49 80.18 84.74 93.61 102.44 107.11 115.86 124.56 129.24 137.99">2022-07-18 11:02:46</text>
<text transform="translate(2290.22 862.04) rotate(-90) scale(1.000 1)" font-size="14.58" fill="#555" x="0.36 9.11 17.86 26.61 35.08 40.24 48.99 57.45 62.61 71.49 80.18 84.74 93.61 102.44 107.11 115.86 124.56 129.24 137.99">2022-07-18 11:05:06</text>
<text transform="translate(2312.17 862.05) rotate(-90) scale(1.000 1)" font-size="14.58" fill="#555" x="0.36 9.11 17.86 26.61 35.08 40.24 48.99 57.45 62.61 71.49 80.18 84.74 93.61 102.44 107.11 115.86 124.56 129.24 137.99">2022-07-18 11:07:26</text>
<text transform="translate(2335.22 862.02) rotate(-90) scale(1.000 1)" font-size="14.58" fill="#555" x="0.36 9.11 17.86 26.61 35.08 40.24 48.99 57.45 62.61 71.49 80.18 84.74 93.61 102.44 107.11 115.86 124.69 129.36 138.11">2022-07-18 11:09:47</text>
<text transform="translate(2358.14 862.03) rotate(-90) scale(1.000 1)" font-size="14.58" fill="#555" x="0.36 9.11 17.86 26.61 35.08 40.24 48.99 57.45 62.61 71.49 80.18 84.74 93.61 102.44 107.11 115.99 124.69 129.36 138.11">2022-07-18 11:12:08</text>
<text transform="translate(2381.18 862.03) rotate(-90) scale(1.000 1)" font-size="14.58" fill="#555" x="0.36 9.11 17.86 26.61 35.08 40.24 48.99 57.45 62.61 71.49 80.18 84.74 93.61 102.44 107.11 115.99 124.69 129.36 138.11">2022-07-18 11:14:29</text>
</g>
<rect x="2404.5" y="227.5" width="192.5" height="66.5" rx="2.8" fill="#eaeaea" stroke="#d6d6d6" stroke-width="1.1"/>
<rect x="2404.5" y="308.5" width="180.5" height="107.5" rx="2.8" fill="#eaeaea" stroke="#d6d6d6" stroke-width="1.1"/>
<rect x="2410" y="234" width="29" height="10" fill="#008000" fill-opacity="0.05" stroke="#008000" stroke-opacity="0.05" stroke-width="0.69"/>
<rect x="2410" y="254.5" width="29" height="10" fill="#ff0000" fill-opacity="0.05" stroke="#ff0000" stroke-opacity="0.05" stroke-width="0.69"/>
<rect x="2410" y="275" width="29" height="10" fill="#ffff00" fill-opacity="0.05" stroke="#ffff00" stroke-opacity="0.05" stroke-width="0.69"/>
<line x1="2409.5" y1="318.8" x2="2439" y2="318.8" stroke="#57dbdb" stroke-width="2.08"/>
<line x1="2409.5" y1="339.8" x2="2439" y2="339.8" stroke="#7157db" stroke-width="2.08"/>
<line x1="2409.5" y1="360.8" x2="2439" y2="360.8" stroke="#db57a6" stroke-width="2.08"/>
<line x1="2409.5" y1="381.7" x2="2439" y2="381.7" stroke="#dba657" stroke-width="2.08"/>
<line x1="2409.5" y1="402.9" x2="2439" y2="402.9" stroke="#71db57" stroke-width="2.08"/>
<text transform="translate(2448.81 242.97) scale(1.000 1)" font-size="14.58" fill="#000" x="-0.44 9.22 17.47 24.82 33.47 42.30 47.55 55.22 63.47 70.81 75.20 83.93 87.81 91.57 100.05 107.70 116.82 121.93 125.69 134.35">Resources allocation</text>
<text transform="translate(2448.90 263.94) scale(1.000 1)" font-size="14.58" fill="#000" x="-0.46 7.60 16.31 20.18 23.93 28.43 32.19 40.70 49.48">Full load</text>
<text transform="translate(2448.89 285.03) scale(1.000 1)" font-size="14.58" fill="#000" x="-0.44 9.22 17.47 24.82 33.47 42.30 47.55 55.22 63.47 70.81 75.43 80.72 89.31 93.09 101.58 109.97 117.34">Resources release</text>
<text transform="translate(2447.92 323.98) scale(1.000 1)" font-size="14.58" fill="#000" x="0.41 11.58 20.00 27.72 36.47 44.95 50.44 63.44 72.10 80.97 89.68 93.47 101.72 109.23">wazuh-modulesd</text>
<text transform="translate(2447.94 344.97) scale(1.000 1)" font-size="14.58" fill="#000" x="0.41 11.58 20.00 27.72 36.47 44.95 50.06 53.82 62.48 71.17 78.82 87.43 91.31 95.09 103.55 111.70 116.69 125.43">wazuh-logcollector</text>
<text transform="translate(2447.96 366.01) scale(1.000 1)" font-size="14.58" fill="#000" x="0.41 11.58 20.00 27.72 36.47 44.95 49.97 58.46 66.09 74.55 82.35">wazuh-execd</text>
<text transform="translate(2447.95 386.98) scale(1.000 1)" font-size="14.58" fill="#000" x="0.41 11.58 20.00 27.72 36.47 44.95 49.72 57.34 65.10 72.42 80.22 88.84 97.30 105.13 113.23">wazuh-syscheckd</text>
<text transform="translate(2447.97 407.95) scale(1.000 1)" font-size="14.58" fill="#000" x="0.41 11.58 20.00 27.72 36.47 44.95 49.95 58.73 67.47 76.10 85.20 90.35">wazuh-agentd</text>
</svg></body></html>
